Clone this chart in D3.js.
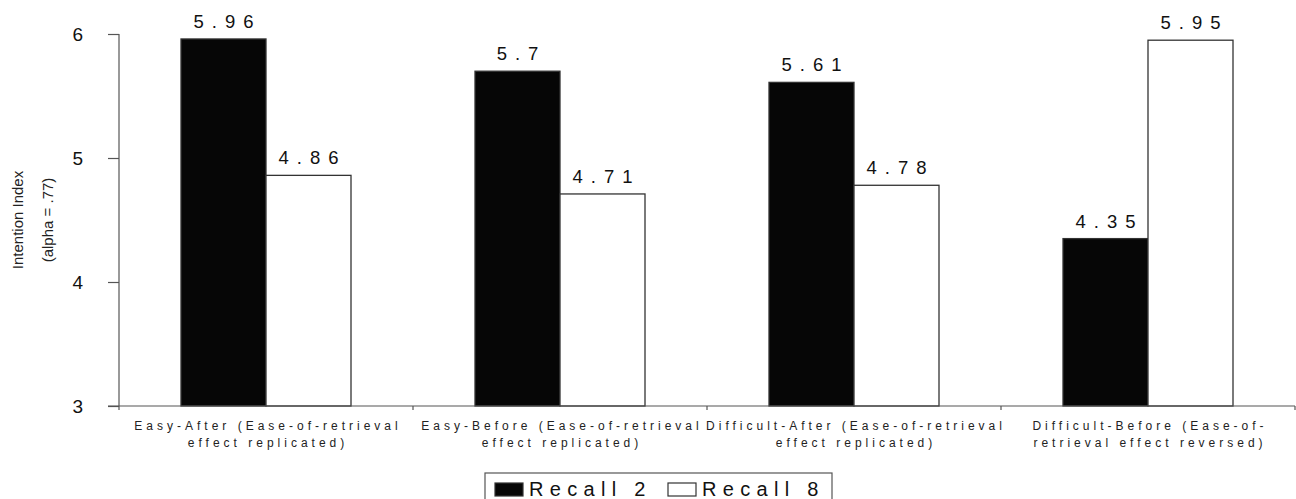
<!DOCTYPE html>
<html>
<head>
<meta charset="utf-8">
<script src="https://cdn.jsdelivr.net/npm/d3@7"></script>
<style>
  html, body { margin: 0; padding: 0; background: #fff; }
  svg { display: block; font-family: "Liberation Sans", Arial, sans-serif; }
</style>
</head>
<body>
<svg id="chart" width="1296" height="499"></svg>
<script>
// Conditions, each label split over two lines
const categories = ["Easy-After", "Easy-Before", "Difficult-After", "Difficult-Before"];
const categoryLines = [
  ["Easy-After (Ease-of-retrieval", "effect replicated)"],
  ["Easy-Before (Ease-of-retrieval", "effect replicated)"],
  ["Difficult-After (Ease-of-retrieval", "effect replicated)"],
  ["Difficult-Before (Ease-of-", "retrieval effect reversed)"]
];
const seriesNames = ["Recall 2", "Recall 8"];
const recall2 = [5.96, 5.7, 5.61, 4.35];
const recall8 = [4.86, 4.71, 4.78, 5.95];
const yTicks = [3, 4, 5, 6];
const seriesFill = ["#060606", "#ffffff"];

const svg = d3.select("#chart");
const margin = { left: 119, right: 1, top: 34, bottom: 93 };
const W = 1296, H = 499;

const x0 = d3.scaleBand().domain(categories).range([margin.left, W - margin.right]).padding(0);
const x1 = d3.scaleBand().domain(seriesNames).range([62, 232]).padding(0);
const y = d3.scaleLinear().domain([3, 6]).range([H - margin.bottom, margin.top]);

const rows = categories.map((c, i) => ({ cat: c, vals: [recall2[i], recall8[i]] }));

// Bars
const groups = svg.append("g").selectAll("g").data(rows).join("g")
  .attr("transform", d => `translate(${x0(d.cat)},0)`);

groups.selectAll("rect").data(d => d.vals.map((v, j) => ({ v, s: seriesNames[j], j })))
  .join("rect")
  .attr("x", d => x1(d.s))
  .attr("y", d => y(d.v))
  .attr("width", x1.bandwidth())
  .attr("height", d => y(3) - y(d.v))
  .attr("fill", d => seriesFill[d.j])
  .attr("stroke", "#333")
  .attr("stroke-width", 1.3);

// Value labels above each bar
groups.selectAll("text.val").data(d => d.vals.map((v, j) => ({ v, s: seriesNames[j] })))
  .join("text")
  .attr("class", "val")
  .attr("x", d => x1(d.s) + x1.bandwidth() / 2 + 4)
  .attr("y", d => y(d.v) - 11)
  .attr("text-anchor", "middle")
  .attr("font-size", 18.5)
  .attr("letter-spacing", 8)
  .attr("fill", "#111")
  .text(d => String(d.v));

// Y axis
const yAxis = svg.append("g")
  .attr("transform", `translate(${margin.left},0)`)
  .call(d3.axisLeft(y).tickValues(yTicks).tickFormat(d3.format("d")).tickSize(11).tickPadding(25));
yAxis.select(".domain").attr("stroke", "#555").attr("stroke-width", 1.2)
  .attr("d", `M0,${y(6)}V${y(3)}`);
yAxis.selectAll(".tick line").attr("stroke", "#555").attr("stroke-width", 1.2);
yAxis.selectAll(".tick text").attr("font-size", 19).attr("fill", "#111")
  .attr("font-family", "Liberation Sans, Arial, sans-serif");

// X axis
const xAxis = svg.append("g")
  .attr("transform", `translate(0,${y(3)})`)
  .call(d3.axisBottom(x0).tickValues([]).tickSize(0));
xAxis.select(".domain").attr("stroke", "#555").attr("stroke-width", 1.2)
  .attr("d", `M${margin.left - 11},0H${W - margin.right}`);
// Category boundary ticks
const bounds = categories.map(c => x0(c)).concat([x0(categories[categories.length - 1]) + x0.bandwidth()]);
xAxis.selectAll("line.bound").data(bounds).join("line")
  .attr("class", "bound")
  .attr("x1", d => d).attr("x2", d => d)
  .attr("y1", 0).attr("y2", 4)
  .attr("stroke", "#555").attr("stroke-width", 1.2);

// Category labels
const catLabels = svg.append("g").selectAll("text").data(categories).join("text")
  .attr("x", d => x0(d) + x0.bandwidth() / 2 + 2)
  .attr("y", y(3) + 24)
  .attr("text-anchor", "middle")
  .attr("font-size", 12)
  .attr("letter-spacing", 4)
  .attr("fill", "#222");
catLabels.each(function (d, i) {
  const t = d3.select(this);
  categoryLines[i].forEach((line, k) => {
    t.append("tspan")
      .attr("x", x0(d) + x0.bandwidth() / 2 + 2)
      .attr("dy", k === 0 ? 0 : 17)
      .text(line);
  });
});

// Y axis title
const yTitle = svg.append("text")
  .attr("transform", `translate(0,220) rotate(-90)`)
  .attr("text-anchor", "middle")
  .attr("font-size", 15)
  .attr("fill", "#222");
yTitle.append("tspan").attr("x", 0).attr("y", 23).text("Intention Index");
yTitle.append("tspan").attr("x", 0).attr("y", 53).text("(alpha = .77)");

// Legend
const legend = svg.append("g");
legend.append("rect")
  .attr("x", 485).attr("y", 473).attr("width", 347).attr("height", 40)
  .attr("fill", "#fff").attr("stroke", "#555").attr("stroke-width", 1.2);
const legendX = [495, 668];
const items = legend.selectAll("g").data(seriesNames).join("g")
  .attr("transform", (d, i) => `translate(${legendX[i]},0)`);
items.append("rect")
  .attr("x", 0).attr("y", 483).attr("width", 28).attr("height", 13)
  .attr("fill", (d, i) => seriesFill[i]).attr("stroke", "#333").attr("stroke-width", 1.2);
items.append("text")
  .attr("x", 34).attr("y", 496)
  .attr("font-size", 20)
  .attr("letter-spacing", 6.3)
  .attr("fill", "#111")
  .text(d => d);
</script>
</body>
</html>
